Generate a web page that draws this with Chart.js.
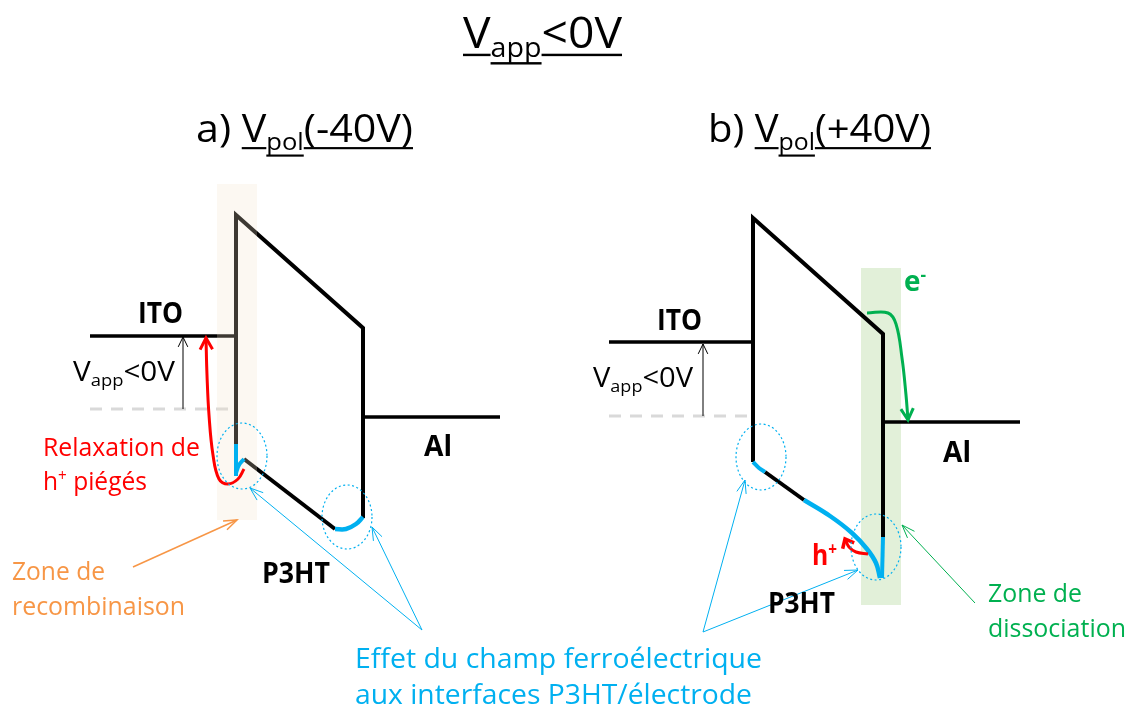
<!DOCTYPE html>
<html><head><meta charset="utf-8">
<script src="https://cdn.jsdelivr.net/npm/chart.js@4"></script>
<style>html,body{margin:0;padding:0;background:#fff;overflow:hidden}canvas{display:block}</style>
</head><body>
<canvas id="c" width="1129" height="713"></canvas>
<script>
// ===== Data (diagram frame: x right, y down) =====
// (a) Vpol(-40V)
const aITOLevel   = [{x:90,y:336},{x:236,y:336}];
const aBand       = [{x:236,y:444},{x:236,y:215},{x:363,y:328},{x:363,y:518}];
const aBandLow    = [{x:244,y:459},{x:335,y:529}];
const aAlLevel    = [{x:363,y:417},{x:500,y:417}];
const aZeroLevel  = [{x:90,y:409},{x:236,y:409}];
const aVappArrow  = [{x:183,y:409},{x:183,y:337}];
const aBlueITO    = [{x:236,y:444},{x:236,y:476}];
const aBlueHook   = [{x:236,y:473},{x:239,y:465},{x:244,y:459}];
const aBlueAl     = [{x:335,y:529},{x:346,y:529},{x:356,y:524},{x:363,y:517}];
const aRelax      = [{x:244,y:469},{x:238,y:479},{x:228,y:484},{x:219,y:479},{x:213,y:455},{x:209,y:415},{x:207,y:375},{x:206,y:338}];
const aZone       = {x1:217,x2:257,y1:184,y2:520};

// (b) Vpol(+40V)
const bITOLevel   = [{x:609,y:342},{x:753,y:342}];
const bBand       = [{x:753,y:462},{x:753,y:218},{x:883,y:334},{x:883,y:537}];
const bBandLow    = [{x:765,y:472},{x:804,y:500}];
const bAlLevel    = [{x:883,y:422},{x:1020,y:422}];
const bZeroLevel  = [{x:609,y:416},{x:753,y:416}];
const bVappArrow  = [{x:703,y:416},{x:703,y:344}];
const bBlueITO    = [{x:753,y:462},{x:759,y:468},{x:765,y:472}];
const bBlueCurve  = [{x:804,y:500},{x:830,y:516},{x:852,y:533},{x:867,y:549},{x:876,y:563},{x:880,y:578}];
const bBlueAl     = [{x:883,y:537},{x:882,y:578}];
const bElectron   = [{x:867,y:313},{x:888,y:313},{x:896,y:324},{x:902,y:358},{x:906,y:395},{x:908,y:420}];
const bHole       = [{x:868,y:554},{x:856,y:552},{x:849,y:547},{x:845,y:539}];
const bZone       = {x1:861,x2:901,y1:268,y2:605};

// annotation pointers
const ptrBlueA1 = [{x:422,y:630},{x:250,y:488}];
const ptrBlueA2 = [{x:422,y:630},{x:372,y:527}];
const ptrBlueB1 = [{x:703,y:632},{x:745,y:480}];
const ptrBlueB2 = [{x:703,y:632},{x:858,y:570}];
const ptrOrange = [{x:133,y:567},{x:237,y:520}];
const ptrGreen  = [{x:975,y:603},{x:902,y:525}];

// interface regions (dotted ellipses): centres and radii
const ellipseCentres = [{x:242,y:456},{x:347,y:517},{x:761,y:457},{x:876,y:547}];
const ellipseRadii   = [{rx:25,ry:33},{rx:25,ry:32},{rx:25,ry:33},{rx:25,ry:33}];

// ===== Styles =====
const BLACK='#000', BLUE='#00b0f0', RED='#ff0000', GREEN='#00b050', ORANGE='#f79646', GREY='#d9d9d9';
const FONT='"Open Sans","Liberation Sans",sans-serif';

function line(data, color, width, extra){
  return Object.assign({data, borderColor:color, borderWidth:width, pointRadius:0, tension:0,
    fill:false, borderJoinStyle:'miter', borderCapStyle:'butt'}, extra||{});
}
function zoneRect(z, color){
  return {data:[{x:z.x1,y:z.y1},{x:z.x2,y:z.y1}], borderWidth:0, borderColor:'rgba(0,0,0,0)',
    backgroundColor:color, pointRadius:0, fill:{value:z.y2}, tension:0};
}

const datasets = [
  zoneRect(bZone, '#e2f0d9'),
  line(aZeroLevel, GREY, 3, {borderDash:[12,9]}),
  line(bZeroLevel, GREY, 3, {borderDash:[12,9]}),
  line(aITOLevel, BLACK, 3.5), line(aBand, BLACK, 4), line(aBandLow, BLACK, 4), line(aAlLevel, BLACK, 3.5),
  line(bITOLevel, BLACK, 3.5), line(bBand, BLACK, 4), line(bBandLow, BLACK, 4), line(bAlLevel, BLACK, 3.5),
  zoneRect(aZone, 'rgba(243,226,205,0.25)'),
  line(aBlueITO, BLUE, 4), line(aBlueHook, BLUE, 4, {tension:0.4}), line(aBlueAl, BLUE, 4.5, {tension:0.4}),
  line(bBlueITO, BLUE, 4, {tension:0.3}), line(bBlueCurve, BLUE, 4.5, {tension:0.4}), line(bBlueAl, BLUE, 4),
  line(aVappArrow, BLACK, 1, {arrow:{len:11, ang:0.45}}),
  line(bVappArrow, BLACK, 1, {arrow:{len:11, ang:0.45}}),
  line(aRelax, RED, 3, {tension:0.4, arrow:{len:13, ang:0.5, w:3}}),
  line(bElectron, GREEN, 3, {tension:0.4, arrow:{len:13, ang:0.5, w:3}}),
  line(bHole, RED, 3, {tension:0.4, arrow:{len:10, ang:0.7, w:3.5}}),
  line(ptrBlueA1, BLUE, 1, {arrow:{len:14, ang:0.35}}),
  line(ptrBlueA2, BLUE, 1, {arrow:{len:14, ang:0.35}}),
  line(ptrBlueB1, BLUE, 1, {arrow:{len:14, ang:0.35}}),
  line(ptrBlueB2, BLUE, 1, {arrow:{len:14, ang:0.35}}),
  line(ptrOrange, ORANGE, 1.5, {arrow:{len:14, ang:0.35}}),
  line(ptrGreen, GREEN, 1, {arrow:{len:14, ang:0.35}})
];
datasets.forEach((d,i)=>{ d.order = datasets.length - i; });

// ===== Texts =====
const labels = [
  {runs:[{t:'V',u:1},{t:'app',sub:1,u:1},{t:'<0V',u:1}], x:463, y:48, size:44, w:159, color:BLACK},
  {runs:[{t:'a) '},{t:'V',u:1},{t:'pol',sub:1,u:1},{t:'(-40V)',u:1}], x:196, y:142, size:39, w:217, color:BLACK},
  {runs:[{t:'b) '},{t:'V',u:1},{t:'pol',sub:1,u:1},{t:'(+40V)',u:1}], x:708, y:142, size:39, w:223, color:BLACK},
  {runs:[{t:'ITO'}], x:138, y:323, size:28, w:45, color:BLACK, bold:1},
  {runs:[{t:'ITO'}], x:657, y:330, size:28, w:45, color:BLACK, bold:1},
  {runs:[{t:'Al'}], x:424, y:456, size:28, w:28, color:BLACK, bold:1},
  {runs:[{t:'Al'}], x:943, y:462, size:28, w:28, color:BLACK, bold:1},
  {runs:[{t:'V'},{t:'app',sub:1},{t:'<0V'}], x:73, y:381, size:27, w:102, color:BLACK},
  {runs:[{t:'V'},{t:'app',sub:1},{t:'<0V'}], x:593, y:387, size:27, w:100, color:BLACK},
  {runs:[{t:'Relaxation de'}], x:43, y:456, size:26, w:157, color:RED},
  {runs:[{t:'h'},{t:'+',sup:1},{t:' piégés'}], x:43, y:490, size:26, w:104, color:RED},
  {runs:[{t:'e'},{t:'-',sup:1}], x:904, y:291, size:29, w:22, color:GREEN, bold:1},
  {runs:[{t:'h'},{t:'+',sup:1}], x:812, y:565, size:29, w:25, color:RED, bold:1},
  {runs:[{t:'P3HT'}], x:262, y:583, size:28, w:68, color:BLACK, bold:1},
  {runs:[{t:'P3HT'}], x:768, y:613, size:28, w:67, color:BLACK, bold:1},
  {runs:[{t:'Zone de'}], x:12, y:580, size:25, w:93, color:ORANGE},
  {runs:[{t:'recombinaison'}], x:12, y:615, size:25, w:173, color:ORANGE},
  {runs:[{t:'Zone de'}], x:988, y:602, size:25, w:94, color:GREEN},
  {runs:[{t:'dissociation'}], x:988, y:637, size:25, w:138, color:GREEN},
  {runs:[{t:'Effet du champ ferroélectrique'}], x:355, y:668, size:28, w:407, color:BLUE},
  {runs:[{t:'aux interfaces P3HT/électrode'}], x:355, y:704, size:28, w:397, color:BLUE}
];

// ===== Plugins =====
function head(ctx, x1,y1,x2,y2, len, ang){
  const a = Math.atan2(y2-y1, x2-x1);
  ctx.beginPath();
  ctx.moveTo(x2 - len*Math.cos(a-ang), y2 - len*Math.sin(a-ang));
  ctx.lineTo(x2, y2);
  ctx.lineTo(x2 - len*Math.cos(a+ang), y2 - len*Math.sin(a+ang));
  ctx.stroke();
}
const arrowPlugin = {
  id:'arrowheads',
  afterDatasetDraw(chart, args){
    const ds = chart.data.datasets[args.index];
    if(!ds.arrow) return;
    const pts = args.meta.data; const n = pts.length;
    const p1 = pts[n-2], p2 = pts[n-1];
    const ctx = chart.ctx; ctx.save();
    ctx.strokeStyle = ds.borderColor; ctx.lineWidth = ds.arrow.w || ds.borderWidth;
    ctx.lineJoin='miter'; ctx.lineCap='butt';
    head(ctx, p1.x,p1.y,p2.x,p2.y, ds.arrow.len, ds.arrow.ang);
    ctx.restore();
  }
};
const ellipsePlugin = {
  id:'ellipses',
  afterDatasetsDraw(chart){
    const xs = chart.scales.x, ys = chart.scales.y, ctx = chart.ctx;
    ctx.save(); ctx.strokeStyle = BLUE; ctx.lineWidth = 1.2; ctx.setLineDash([2,2.5]);
    ellipseCentres.forEach((c,i)=>{
      const cx = xs.getPixelForValue(c.x), cy = ys.getPixelForValue(c.y);
      const rx = Math.abs(xs.getPixelForValue(c.x+ellipseRadii[i].rx)-cx);
      const ry = Math.abs(ys.getPixelForValue(c.y+ellipseRadii[i].ry)-cy);
      ctx.beginPath(); ctx.ellipse(cx,cy,rx,ry,0,0,Math.PI*2); ctx.stroke();
    });
    ctx.restore();
  }
};
const textPlugin = {
  id:'texts',
  afterDraw(chart){
    const xs = chart.scales.x, ys = chart.scales.y, ctx = chart.ctx;
    labels.forEach(L=>{
      const wt = L.bold ? '700 ' : '400 ';
      const runs = L.runs.map(r=>{
        const s = (r.sub||r.sup) ? L.size*0.62 : L.size;
        ctx.font = wt + s + 'px ' + FONT;
        return Object.assign({s, w:ctx.measureText(r.t).width}, r);
      });
      const natural = runs.reduce((a,r)=>a+r.w,0);
      const x0 = xs.getPixelForValue(L.x), y0 = ys.getPixelForValue(L.y);
      const x1 = xs.getPixelForValue(L.x + L.w);
      const sx = (x1-x0)/natural;
      ctx.save(); ctx.translate(x0,y0); ctx.scale(sx,1);
      ctx.fillStyle = L.color; ctx.textBaseline='alphabetic'; ctx.textAlign='left';
      let cx = 0;
      runs.forEach(r=>{
        ctx.font = wt + r.s + 'px ' + FONT;
        const dy = r.sub ? L.size*0.2 : (r.sup ? -L.size*0.33 : 0);
        ctx.fillText(r.t, cx, dy);
        if(r.u){
          const uy = dy + r.s*0.13 + (r.sub?L.size*0.04:0);
          ctx.fillRect(cx, uy, r.w, Math.max(1.5, L.size*0.055));
        }
        cx += r.w;
      });
      ctx.restore();
    });
  }
};

new Chart(document.getElementById('c'), {
  type:'line',
  data:{datasets},
  options:{
    responsive:false, animation:false, events:[], devicePixelRatio:1,
    layout:{padding:0},
    plugins:{legend:{display:false}, tooltip:{enabled:false}},
    scales:{
      x:{type:'linear', min:0, max:1129, display:false},
      y:{type:'linear', min:0, max:713, reverse:true, display:false}
    }
  },
  plugins:[arrowPlugin, ellipsePlugin, textPlugin]
});
</script>
</body></html>
